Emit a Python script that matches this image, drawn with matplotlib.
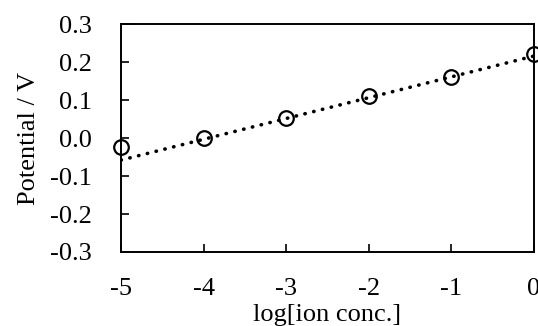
import matplotlib
matplotlib.use("Agg")
import matplotlib.pyplot as plt

# data
log_conc = [-5, -4, -3, -2, -1, 0]
potential = [-0.024, 0.0, 0.053, 0.111, 0.161, 0.221]

# dotted trendline, end values
trend_x = [-5, 0]
trend_y = [-0.058, 0.216]

x_ticks = [-5, -4, -3, -2, -1, 0]
y_ticks = [-0.3, -0.2, -0.1, 0.0, 0.1, 0.2, 0.3]

plt.rcParams['font.family'] = ['Liberation Serif', 'DejaVu Serif']

fig = plt.figure(figsize=(5.38, 3.26), dpi=100)
ax = fig.add_axes([0.225, 0.227, 0.7676, 0.699])

ax.plot(trend_x, trend_y, color='black', linewidth=2.6,
        linestyle=(0, (0.1, 2.4)), dash_capstyle='round', zorder=2)
ax.plot(log_conc, potential, linestyle='none', marker='o', markersize=10.5,
        markerfacecolor='none', markeredgecolor='black', markeredgewidth=1.6,
        clip_on=False, zorder=3)

ax.set_xlim(-5, 0)
ax.set_ylim(-0.3, 0.3)
ax.set_xticks(x_ticks)
ax.set_xticklabels([str(v) for v in x_ticks])
ax.set_yticks(y_ticks)
ax.set_yticklabels(['%.1f' % v for v in y_ticks])

ax.tick_params(axis='both', direction='in', length=5.5, width=1.2,
               labelsize=19, top=False, right=False)
ax.tick_params(axis='y', pad=21)
ax.tick_params(axis='x', pad=19)
for s in ax.spines.values():
    s.set_linewidth(1.4)

ax.set_xlabel('log[ion conc.]', fontsize=19, labelpad=2.5)
ax.set_ylabel('Potential / V', fontsize=19, labelpad=7.5)

fig.savefig('out.png', dpi=100)
